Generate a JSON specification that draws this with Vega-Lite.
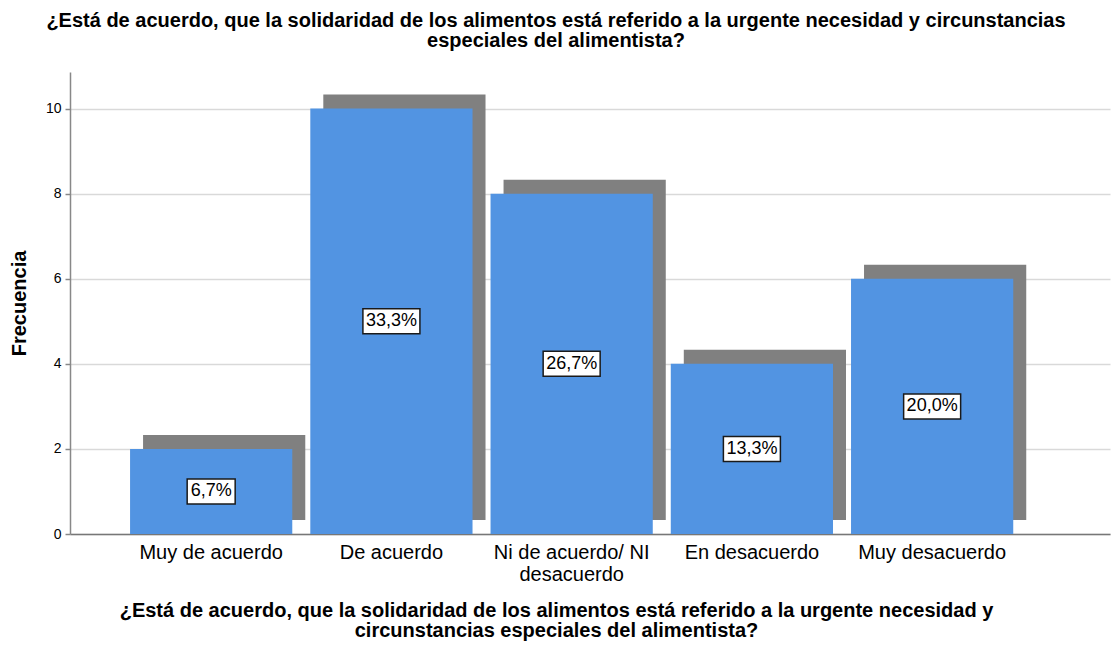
{
  "$schema": "https://vega.github.io/schema/vega-lite/v6.json",
  "width": 1040,
  "height": 462,
  "autosize": "none",
  "padding": {"left": 70, "top": 72, "right": 2, "bottom": 118},
  "background": "white",
  "config": {"font": "Liberation Sans", "view": {"stroke": null}},
  "title": {
    "text": ["¿Está de acuerdo, que la solidaridad de los alimentos está referido a la urgente necesidad y circunstancias", "especiales del alimentista?"],
    "fontSize": 20,
    "fontWeight": "bold",
    "lineHeight": 20,
    "anchor": "middle",
    "dx": -34,
    "offset": 21,
    "color": "black",
    "font": "Liberation Sans"
  },
  "data": {
    "values": [
      {"cat": "Muy de acuerdo", "count": 2, "pct": "6,7%"},
      {"cat": "De acuerdo", "count": 10, "pct": "33,3%"},
      {"cat": "Ni de acuerdo/ NI desacuerdo", "count": 8, "pct": "26,7%"},
      {"cat": "En desacuerdo", "count": 4, "pct": "13,3%"},
      {"cat": "Muy desacuerdo", "count": 6, "pct": "20,0%"}
    ]
  },
  "encoding": {
    "x": {
      "field": "cat",
      "type": "nominal",
      "sort": null,
      "scale": {"paddingInner": 0.1, "paddingOuter": 0.435, "align": 0.383},
      "axis": {
        "title": ["¿Está de acuerdo, que la solidaridad de los alimentos está referido a la urgente necesidad y", "circunstancias especiales del alimentista?"],
        "titleFontSize": 20,
        "titleFontWeight": "bold",
        "titleLineHeight": 20,
        "titleColor": "black",
        "titleX": 486,
        "titleY": 82,
        "titleBaseline": "alphabetic",
        "titleAlign": "center",
        "labelAngle": 0,
        "labelFontSize": 20,
        "labelColor": "black",
        "labelPadding": 8,
        "labelLineHeight": 22,
        "labelLimit": 0,
        "labelExpr": "datum.label == 'Ni de acuerdo/ NI desacuerdo' ? ['Ni de acuerdo/ NI', 'desacuerdo'] : datum.label",
        "ticks": false,
        "grid": false,
        "domainColor": "#777777",
        "domainWidth": 1.5
      }
    }
  },
  "layer": [
    {
      "encoding": {
        "y": {
          "field": "count",
          "type": "quantitative",
          "scale": {"domain": [0, 10.86], "nice": false, "zero": true},
          "axis": {
            "values": [0, 2, 4, 6, 8, 10],
            "title": "Frecuencia",
            "titleFontSize": 20,
            "titleFontWeight": "bold",
            "titleColor": "black",
            "titleX": -45,
            "titleY": 231,
            "titleBaseline": "alphabetic",
            "titleAngle": -90,
            "titleAlign": "center",
            "labelFontSize": 14,
            "labelColor": "black",
            "labelPadding": 4,
            "tickSize": 5,
            "tickColor": "#888888",
            "tickWidth": 1.5,
            "domainColor": "#888888",
            "domainWidth": 1.5,
            "grid": true,
            "gridColor": "#d9d9d9",
            "gridWidth": 1.5
          }
        }
      },
      "layer": [
        {
          "mark": {"type": "bar", "color": "#808080", "xOffset": 13, "yOffset": -14, "y2Offset": -13}
        },
        {
          "mark": {"type": "bar", "color": "#5294e2"}
        }
      ]
    },
    {
      "encoding": {
        "y": {
          "field": "count",
          "type": "quantitative",
          "scale": {"domain": [0, 21.72], "nice": false, "zero": true},
          "axis": null
        }
      },
      "layer": [
        {
          "mark": {"type": "tick", "thickness": 25, "fill": "white", "stroke": "#1a1a1a", "strokeWidth": 1.5, "opacity": 1},
          "encoding": {
            "size": {"condition": {"test": "length(datum.pct) > 4", "value": 57}, "value": 48}
          }
        },
        {
          "mark": {"type": "text", "fontSize": 18, "color": "black", "baseline": "middle", "align": "center", "font": "Liberation Sans"},
          "encoding": {"text": {"field": "pct"}}
        }
      ]
    }
  ],
  "resolve": {"scale": {"y": "independent"}}
}
